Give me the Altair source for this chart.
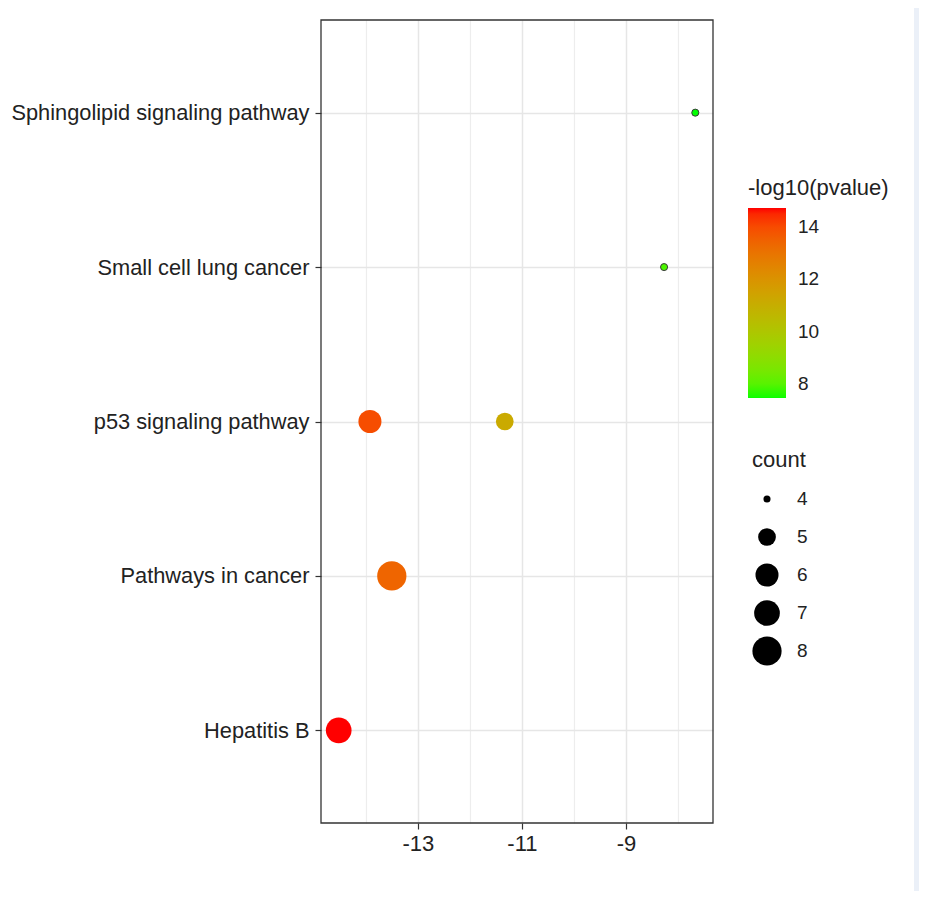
import altair as alt
import pandas as pd

terms = ["Sphingolipid signaling pathway", "Small cell lung cancer", "p53 signaling pathway",
         "p53 signaling pathway", "Pathways in cancer", "Hepatitis B"]
x_vals = [-7.67, -8.27, -13.92, -11.33, -13.50, -14.52]
logp = [7.46, 7.85, 13.95, 11.15, 13.40, 14.73]
counts = [4, 4, 6, 5, 8, 7]
order = ["Sphingolipid signaling pathway", "Small cell lung cancer", "p53 signaling pathway",
         "Pathways in cancer", "Hepatitis B"]
major_ticks = [-13, -11, -9]
minor_ticks = [-14, -12, -10, -8]
count_levels = [4, 5, 6, 7, 8]
count_areas = [50, 314, 531, 660, 855]

df = pd.DataFrame({"term": terms, "x": x_vals, "logp": logp, "count": counts})

FONT = "Liberation Sans"
W, H = 392, 803
xscale = alt.Scale(domain=[-14.86, -7.33], nice=False, zero=False)
yscale = alt.Scale(domain=order, type="point", padding=0.6)

yaxis = alt.Axis(title=None, grid=True, gridColor="#E6E6E6", gridWidth=1.5, domain=False,
                 tickColor="#333", tickSize=6, tickWidth=1.2, labelFontSize=21.8,
                 labelFont=FONT, labelColor="#222", labelPadding=6, labelLimit=400)

base = alt.Chart(df)

minor = base.mark_point(opacity=0).encode(
    x=alt.X("x:Q", scale=xscale, axis=alt.Axis(values=minor_ticks, labels=False, ticks=False,
                                               domain=False, grid=True, gridColor="#EDEDED",
                                               gridWidth=1.2, title=None, orient="bottom")),
    y=alt.Y("term:N", scale=yscale, sort=order, axis=yaxis),
)

pts = base.mark_circle(opacity=1, stroke="#3a3a3a").encode(
    x=alt.X("x:Q", scale=xscale, axis=alt.Axis(values=major_ticks, grid=True, gridColor="#E6E6E6",
                                               gridWidth=1.5, title=None, orient="bottom",
                                               domain=False, tickColor="#333", tickSize=6,
                                               tickWidth=1.2, labelFontSize=22, labelFont=FONT,
                                               labelColor="#222", labelPadding=4,
                                               labelExpr="toString(datum.value)")),
    y=alt.Y("term:N", scale=yscale, sort=order, axis=yaxis),
    color=alt.Color("logp:Q",
                    scale=alt.Scale(range=["#00FF00", "#FF0000"], interpolate="lab", zero=False, nice=False),
                    legend=alt.Legend(title="-log10(pvalue)", orient="none", legendX=427, legendY=158,
                                      gradientLength=190, gradientThickness=38, values=[8, 10, 12, 14],
                                      titleFontSize=22, titleFont=FONT, titleColor="#222",
                                      titleFontWeight="normal", titlePadding=8, labelFontSize=19,
                                      labelFont=FONT, labelColor="#222", labelOffset=12,
                                      gradientStrokeWidth=0, padding=0)),
    size=alt.Size("count:Q", scale=alt.Scale(domain=count_levels, range=count_areas, zero=False),
                  legend=alt.Legend(title="count", orient="none", legendX=431, legendY=430,
                                    values=count_levels, symbolFillColor="black",
                                    symbolStrokeWidth=0, symbolType="circle",
                                    titleFontSize=22, titleFont=FONT, titleColor="#222",
                                    titleFontWeight="normal", titlePadding=8, labelFontSize=19,
                                    labelFont=FONT, labelColor="#222", labelOffset=15,
                                    clipHeight=38, rowPadding=0, padding=0)),
    strokeWidth=alt.condition(alt.datum["count"] == 4, alt.value(1), alt.value(0)),
)

frame = alt.Chart(pd.DataFrame({"a": [0]})).mark_rect(fill=None, stroke="#333", strokeWidth=1.3).encode(
    x=alt.value(0), x2=alt.value(W), y=alt.value(0), y2=alt.value(H)
)

band = alt.Chart(pd.DataFrame({"a": [0]})).mark_rect(color="#EBF0F8").encode(
    x=alt.value(593), x2=alt.value(604), y=alt.value(-18), y2=alt.value(877)
)

chart = alt.layer(minor, pts, frame, band).resolve_axis(x="independent").properties(
    width=W, height=H,
    background="white",
    autosize=alt.AutoSizeParams(type="none"),
    padding={"left": 313, "top": 12, "right": 206, "bottom": 68},
).configure_view(stroke=None)

chart.save("out.html", embed_options={"renderer": "svg", "actions": False})
